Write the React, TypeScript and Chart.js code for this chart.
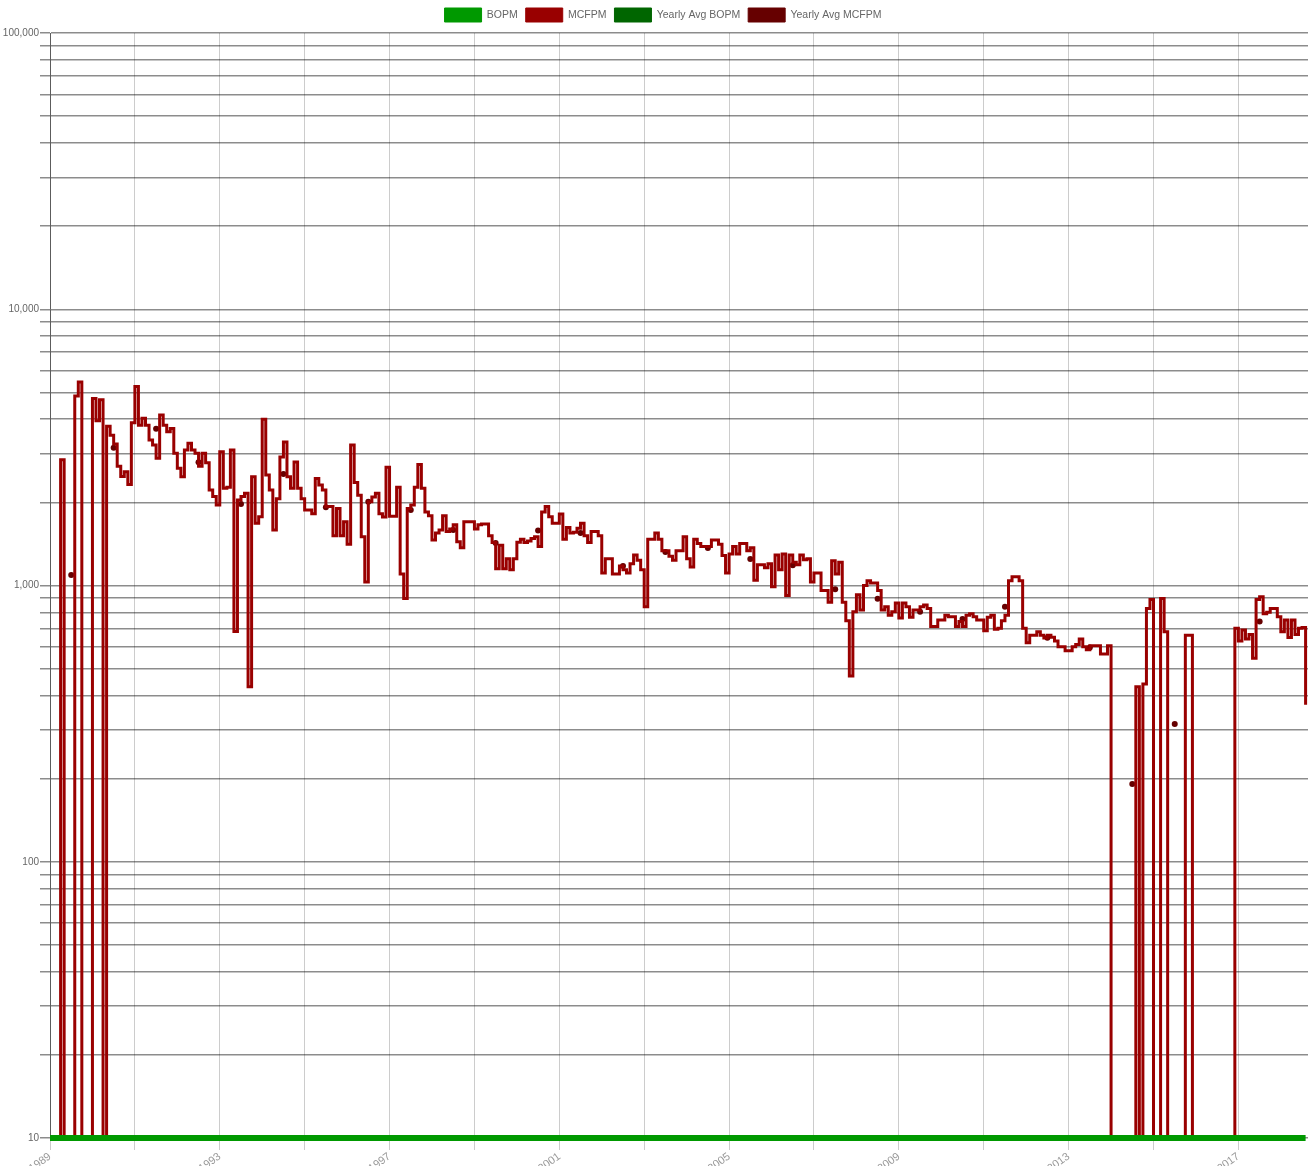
import React, { useEffect, useRef } from 'react';
import { Chart, registerables } from 'chart.js';

Chart.register(...registerables);

const FONT = "'Liberation Sans', Arial, sans-serif";

// First month of the series: January 1989, one value per month.
const START_YEAR = 1989;

// MCFPM, monthly (one row per year, Jan..Dec)
const mcfpm: number[] = [
  0, 0, 0, 2850, 0, 0, 0, 4850, 5450, 0, 0, 0, // 1989
  4750, 3950, 4700, 0, 3775, 3500, 3250, 2700, 2480, 2580, 2320, 3880, // 1990
  5250, 3800, 4030, 3800, 3365, 3226, 2890, 4140, 3800, 3605, 3700, 3010, // 1991
  2655, 2477, 3094, 3273, 3094, 3010, 2700, 3010, 2783, 2217, 2100, 1956, // 1992
  3050, 2250, 2270, 3094, 681, 2040, 2100, 2158, 430, 2477, 1679, 1775, // 1993
  4000, 2510, 2217, 1589, 2060, 2920, 3310, 2477, 2250, 2800, 2250, 2060, // 1994
  1875, 1875, 1820, 2440, 2313, 2217, 1930, 1930, 1513, 1900, 1513, 1700, // 1995
  1410, 3226, 2360, 2120, 1500, 1030, 2010, 2090, 2158, 1820, 1770, 2680, // 1996
  1780, 1780, 2270, 1100, 898, 1900, 1956, 2270, 2740, 2250, 1845, 1790, // 1997
  1462, 1550, 1589, 1790, 1570, 1600, 1660, 1440, 1370, 1700, 1700, 1700, // 1998
  1600, 1660, 1670, 1670, 1513, 1430, 1150, 1400, 1150, 1250, 1140, 1250, // 1999
  1435, 1470, 1430, 1450, 1480, 1500, 1385, 1845, 1930, 1775, 1680, 1680, // 2000
  1815, 1470, 1620, 1550, 1560, 1610, 1680, 1513, 1430, 1570, 1570, 1513, // 2001
  1110, 1250, 1250, 1100, 1100, 1177, 1140, 1110, 1200, 1290, 1235, 1140, // 2002
  837, 1470, 1470, 1550, 1470, 1335, 1335, 1275, 1235, 1335, 1335, 1500, // 2003
  1250, 1167, 1470, 1420, 1385, 1385, 1385, 1462, 1462, 1410, 1285, 1110, // 2004
  1300, 1385, 1300, 1420, 1420, 1335, 1370, 1045, 1190, 1190, 1160, 1200, // 2005
  990, 1290, 1140, 1300, 920, 1290, 1215, 1190, 1290, 1240, 1250, 1030, // 2006
  1110, 1110, 960, 960, 870, 1230, 1100, 1215, 870, 745, 470, 804, // 2007
  925, 815, 1000, 1040, 1020, 1020, 960, 815, 837, 780, 804, 865, // 2008
  762, 865, 837, 768, 815, 815, 837, 850, 825, 710, 710, 750, // 2009
  750, 780, 770, 770, 710, 740, 710, 780, 790, 770, 750, 750, // 2010
  686, 768, 780, 695, 700, 745, 780, 1040, 1075, 1075, 1040, 700, // 2011
  620, 660, 660, 680, 660, 645, 660, 650, 630, 600, 600, 580, // 2012
  580, 600, 612, 640, 600, 585, 605, 605, 605, 565, 565, 605, // 2013
  0, 0, 0, 0, 0, 0, 0, 430, 0, 440, 825, 890, // 2014
  0, 0, 898, 680, 0, 0, 0, 0, 0, 660, 660, 0, // 2015
  0, 0, 0, 0, 0, 0, 0, 0, 0, 0, 0, 700, // 2016
  630, 690, 640, 665, 545, 890, 910, 790, 800, 825, 825, 770, // 2017
  680, 750, 648, 750, 665, 700, 705, 370, // 2018
];

// BOPM, monthly (all zero in the source)
const bopm: number[] = [
  0, 0, 0, 0, 0, 0, 0, 0, 0, 0, 0, 0, // 1989
  0, 0, 0, 0, 0, 0, 0, 0, 0, 0, 0, 0, // 1990
  0, 0, 0, 0, 0, 0, 0, 0, 0, 0, 0, 0, // 1991
  0, 0, 0, 0, 0, 0, 0, 0, 0, 0, 0, 0, // 1992
  0, 0, 0, 0, 0, 0, 0, 0, 0, 0, 0, 0, // 1993
  0, 0, 0, 0, 0, 0, 0, 0, 0, 0, 0, 0, // 1994
  0, 0, 0, 0, 0, 0, 0, 0, 0, 0, 0, 0, // 1995
  0, 0, 0, 0, 0, 0, 0, 0, 0, 0, 0, 0, // 1996
  0, 0, 0, 0, 0, 0, 0, 0, 0, 0, 0, 0, // 1997
  0, 0, 0, 0, 0, 0, 0, 0, 0, 0, 0, 0, // 1998
  0, 0, 0, 0, 0, 0, 0, 0, 0, 0, 0, 0, // 1999
  0, 0, 0, 0, 0, 0, 0, 0, 0, 0, 0, 0, // 2000
  0, 0, 0, 0, 0, 0, 0, 0, 0, 0, 0, 0, // 2001
  0, 0, 0, 0, 0, 0, 0, 0, 0, 0, 0, 0, // 2002
  0, 0, 0, 0, 0, 0, 0, 0, 0, 0, 0, 0, // 2003
  0, 0, 0, 0, 0, 0, 0, 0, 0, 0, 0, 0, // 2004
  0, 0, 0, 0, 0, 0, 0, 0, 0, 0, 0, 0, // 2005
  0, 0, 0, 0, 0, 0, 0, 0, 0, 0, 0, 0, // 2006
  0, 0, 0, 0, 0, 0, 0, 0, 0, 0, 0, 0, // 2007
  0, 0, 0, 0, 0, 0, 0, 0, 0, 0, 0, 0, // 2008
  0, 0, 0, 0, 0, 0, 0, 0, 0, 0, 0, 0, // 2009
  0, 0, 0, 0, 0, 0, 0, 0, 0, 0, 0, 0, // 2010
  0, 0, 0, 0, 0, 0, 0, 0, 0, 0, 0, 0, // 2011
  0, 0, 0, 0, 0, 0, 0, 0, 0, 0, 0, 0, // 2012
  0, 0, 0, 0, 0, 0, 0, 0, 0, 0, 0, 0, // 2013
  0, 0, 0, 0, 0, 0, 0, 0, 0, 0, 0, 0, // 2014
  0, 0, 0, 0, 0, 0, 0, 0, 0, 0, 0, 0, // 2015
  0, 0, 0, 0, 0, 0, 0, 0, 0, 0, 0, 0, // 2016
  0, 0, 0, 0, 0, 0, 0, 0, 0, 0, 0, 0, // 2017
  0, 0, 0, 0, 0, 0, 0, 0, // 2018
];

// Yearly averages (plotted at mid-year)
const avgYears: number[] = [
  1989, 1990, 1991, 1992, 1993, 1994, 1995, 1996, 1997, 1998,
  1999, 2000, 2001, 2002, 2003, 2004, 2005, 2006, 2007, 2008,
  2009, 2010, 2011, 2012, 2013, 2014, 2015, 2016, 2017, 2018,
];
const avgMcfpm: (number | null)[] = [
  1092, 3155, 3690, 2793, 1972, 2535, 1919, 2010, 1875, 1589,
  1426, 1583, 1549, 1177, 1321, 1367, 1247, 1183, 970, 895,
  804, 756, 837, 647, 597, 191, 315, null, 740, null,
];
const avgBopm: (number | null)[] = [
  0, 0, 0, 0, 0, 0, 0, 0, 0, 0,
  0, 0, 0, 0, 0, 0, 0, 0, 0, 0,
  0, 0, 0, 0, 0, 0, 0, 0, 0, 0,
];

// Axis ticks
const yGridValues: number[] = [
  10, 20, 30, 40, 50, 60, 70, 80, 90,
  100, 200, 300, 400, 500, 600, 700, 800, 900,
  1000, 2000, 3000, 4000, 5000, 6000, 7000, 8000, 9000,
  10000, 20000, 30000, 40000, 50000, 60000, 70000, 80000, 90000,
  100000,
];
const yLabelValues: number[] = [10, 100, 1000, 10000, 100000];
const xGridYears: number[] = [1989, 1991, 1993, 1995, 1997, 1999, 2001, 2003, 2005, 2007, 2009, 2011, 2013, 2015, 2017];
const xLabelYears: number[] = [1989, 1993, 1997, 2001, 2005, 2009, 2013, 2017];
const X_MIN = 1989;
const X_MAX = 2018.64;

const seriesNames = ['BOPM', 'MCFPM', 'Yearly Avg BOPM', 'Yearly Avg MCFPM'];
const seriesColors = ['#009900', '#990000', '#006600', '#660000'];

export default function App() {
  const canvasRef = useRef<HTMLCanvasElement | null>(null);

  useEffect(() => {
    const canvas = canvasRef.current;
    if (!canvas) return;

    const monthPoints = (arr: number[]) =>
      arr.map((v, i) => ({ x: START_YEAR + i / 12, y: v }));
    const yearPoints = (arr: (number | null)[]) =>
      arr.map((v, i) => ({ x: avgYears[i] + 0.5, y: v }));

    const legendPlugin = {
      id: 'legendTweak',
      beforeUpdate(chart: any) {
        const lg = chart.legend;
        if (lg && !lg.__patched) {
          const orig = lg.fit.bind(lg);
          lg.fit = () => {
            orig();
            lg.height = 33;
          };
          lg.__patched = true;
        }
      },
      afterLayout(chart: any) {
        const lg = chart.legend;
        if (lg) {
          lg.left += 8;
          lg.right += 8;
        }
      },
    };

    const defaultLabels = (Chart.defaults as any).plugins.legend.labels.generateLabels;

    const chart = new Chart(canvas, {
      type: 'line',
      data: {
        datasets: [
          {
            label: seriesNames[0],
            data: monthPoints(bopm),
            borderColor: seriesColors[0],
            backgroundColor: seriesColors[0],
            borderWidth: 6,
            pointRadius: 0,
            stepped: true,
            clip: false,
          },
          {
            label: seriesNames[1],
            data: monthPoints(mcfpm),
            borderColor: seriesColors[1],
            backgroundColor: seriesColors[1],
            borderWidth: 3,
            pointRadius: 0,
            stepped: true,
          },
          {
            label: seriesNames[2],
            data: yearPoints(avgBopm),
            borderColor: seriesColors[2],
            backgroundColor: seriesColors[2],
            showLine: false,
            pointRadius: 2.5,
            pointBorderWidth: 0,
          },
          {
            label: seriesNames[3],
            data: yearPoints(avgMcfpm),
            borderColor: seriesColors[3],
            backgroundColor: seriesColors[3],
            showLine: false,
            pointRadius: 3,
            pointBorderWidth: 0,
          },
        ],
      },
      options: {
        animation: false,
        parsing: false,
        responsive: true,
        maintainAspectRatio: false,
        layout: { autoPadding: false, padding: { left: 2, right: 0, top: 0, bottom: 0 } },
        plugins: {
          tooltip: { enabled: false },
          legend: {
            position: 'top',
            labels: {
              boxWidth: 37,
              boxHeight: 14,
              padding: 8,
              color: '#666',
              font: { family: FONT, size: 10.5 },
              generateLabels: (c: any) =>
                defaultLabels(c).map((l: any) => ({ ...l, lineWidth: 1 })),
            },
          },
        },
        scales: {
          x: {
            type: 'linear',
            min: X_MIN,
            max: X_MAX,
            afterBuildTicks: (s: any) => {
              s.ticks = xGridYears.map((v) => ({ value: v }));
            },
            afterFit: (s: any) => {
              s.height = 28;
            },
            ticks: {
              autoSkip: false,
              minRotation: 36,
              maxRotation: 36,
              padding: 0,
              color: '#999',
              font: { family: FONT, size: 11 },
              callback: (v: any) => (xLabelYears.includes(Number(v)) ? String(v) : ''),
            },
            grid: {
              color: 'rgba(0,0,0,0.2)',
              lineWidth: 1,
              tickLength: 12,
              tickColor: 'rgba(0,0,0,0.2)',
            },
            border: { display: false },
          },
          y: {
            type: 'logarithmic',
            min: 10,
            max: 100000,
            afterBuildTicks: (s: any) => {
              s.ticks = yGridValues.map((v) => ({ value: v }));
            },
            afterFit: (s: any) => {
              s.width = 48;
            },
            ticks: {
              autoSkip: false,
              padding: 1,
              color: '#666',
              font: { family: FONT, size: 10 },
              callback: (v: any) =>
                yLabelValues.includes(Number(v)) ? Number(v).toLocaleString('en-US') : '',
            },
            grid: {
              color: 'rgba(0,0,0,0.45)',
              lineWidth: 1.5,
              tickLength: 10,
              tickColor: 'rgba(0,0,0,0.45)',
            },
            border: { color: 'rgba(0,0,0,0.55)', width: 1 },
          },
        },
      },
      plugins: [legendPlugin],
    } as any);

    return () => chart.destroy();
  }, []);

  return (
    <div style={{ position: 'absolute', left: 0, top: 0, width: 1308, height: 1166 }}>
      <canvas ref={canvasRef} />
    </div>
  );
}
